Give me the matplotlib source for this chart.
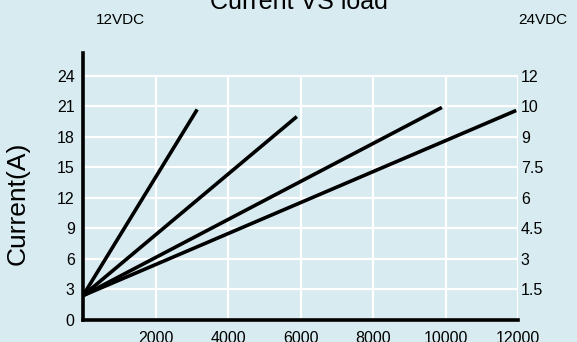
import matplotlib
matplotlib.use("Agg")
import matplotlib.pyplot as plt

# load (W) vs current (A), one line per model
load_ends = [3150, 5900, 9900, 11950]
current_ends = [20.7, 20.0, 20.9, 20.6]
idle_current = 2.4

left_ticks = [0, 3, 6, 9, 12, 15, 18, 21, 24]
right_labels = ["1.5", "3", "4.5", "6", "7.5", "9", "10", "12"]
x_ticks = [2000, 4000, 6000, 8000, 10000, 12000]

bg = "#d7ebf0"
plt.rcParams["font.family"] = ["Liberation Sans", "DejaVu Sans"]

fig = plt.figure(figsize=(5.77, 3.42), dpi=100, facecolor=bg)
ax = fig.add_axes([83 / 577, 22 / 342, 435 / 577, 267 / 342], facecolor=bg)

ax.set_xlim(0, 12000)
ax.set_ylim(0, 26.25)

# grid drawn by hand so it stops at 24
ax.hlines(left_ticks[1:], 0, 12000, color="white", lw=1.6, zorder=1)
ax.vlines(x_ticks, 0, 24, color="white", lw=1.6, zorder=1)

for xe, ye in zip(load_ends, current_ends):
    ax.plot([0, xe], [idle_current, ye], color="black", lw=2.6,
            solid_capstyle="butt", zorder=3, clip_on=False)

for side in ["top", "right"]:
    ax.spines[side].set_visible(False)
ax.spines["left"].set_linewidth(2.6)
ax.spines["bottom"].set_linewidth(2.6)
ax.spines["left"].set_zorder(4)
ax.spines["bottom"].set_zorder(4)

ax.set_yticks(left_ticks)
ax.set_xticks(x_ticks)
ax.tick_params(axis="y", length=0, pad=6, labelsize=11.5)
ax.tick_params(axis="x", length=0, pad=8, labelsize=11.5)

ax2 = ax.twinx()
ax2.set_ylim(ax.get_ylim())
ax2.set_yticks(left_ticks[1:])
ax2.set_yticklabels(right_labels)
ax2.tick_params(axis="y", length=0, pad=2, labelsize=11.5)
for s in ax2.spines.values():
    s.set_visible(False)

fig.text(18 / 577, 1 - 203 / 342, "Current(A)", rotation=90, fontsize=19,
         ha="center", va="center")
fig.text(299 / 577, 1 - 9 / 342, "Current VS load", fontsize=18,
         ha="center", va="baseline")
fig.text(120 / 577, 1 - 20 / 342, "12VDC", fontsize=11, ha="center", va="center")
fig.text(543 / 577, 1 - 20.5 / 342, "24VDC", fontsize=11, ha="center", va="center")

fig.savefig("out.png", dpi=100, facecolor=bg)
